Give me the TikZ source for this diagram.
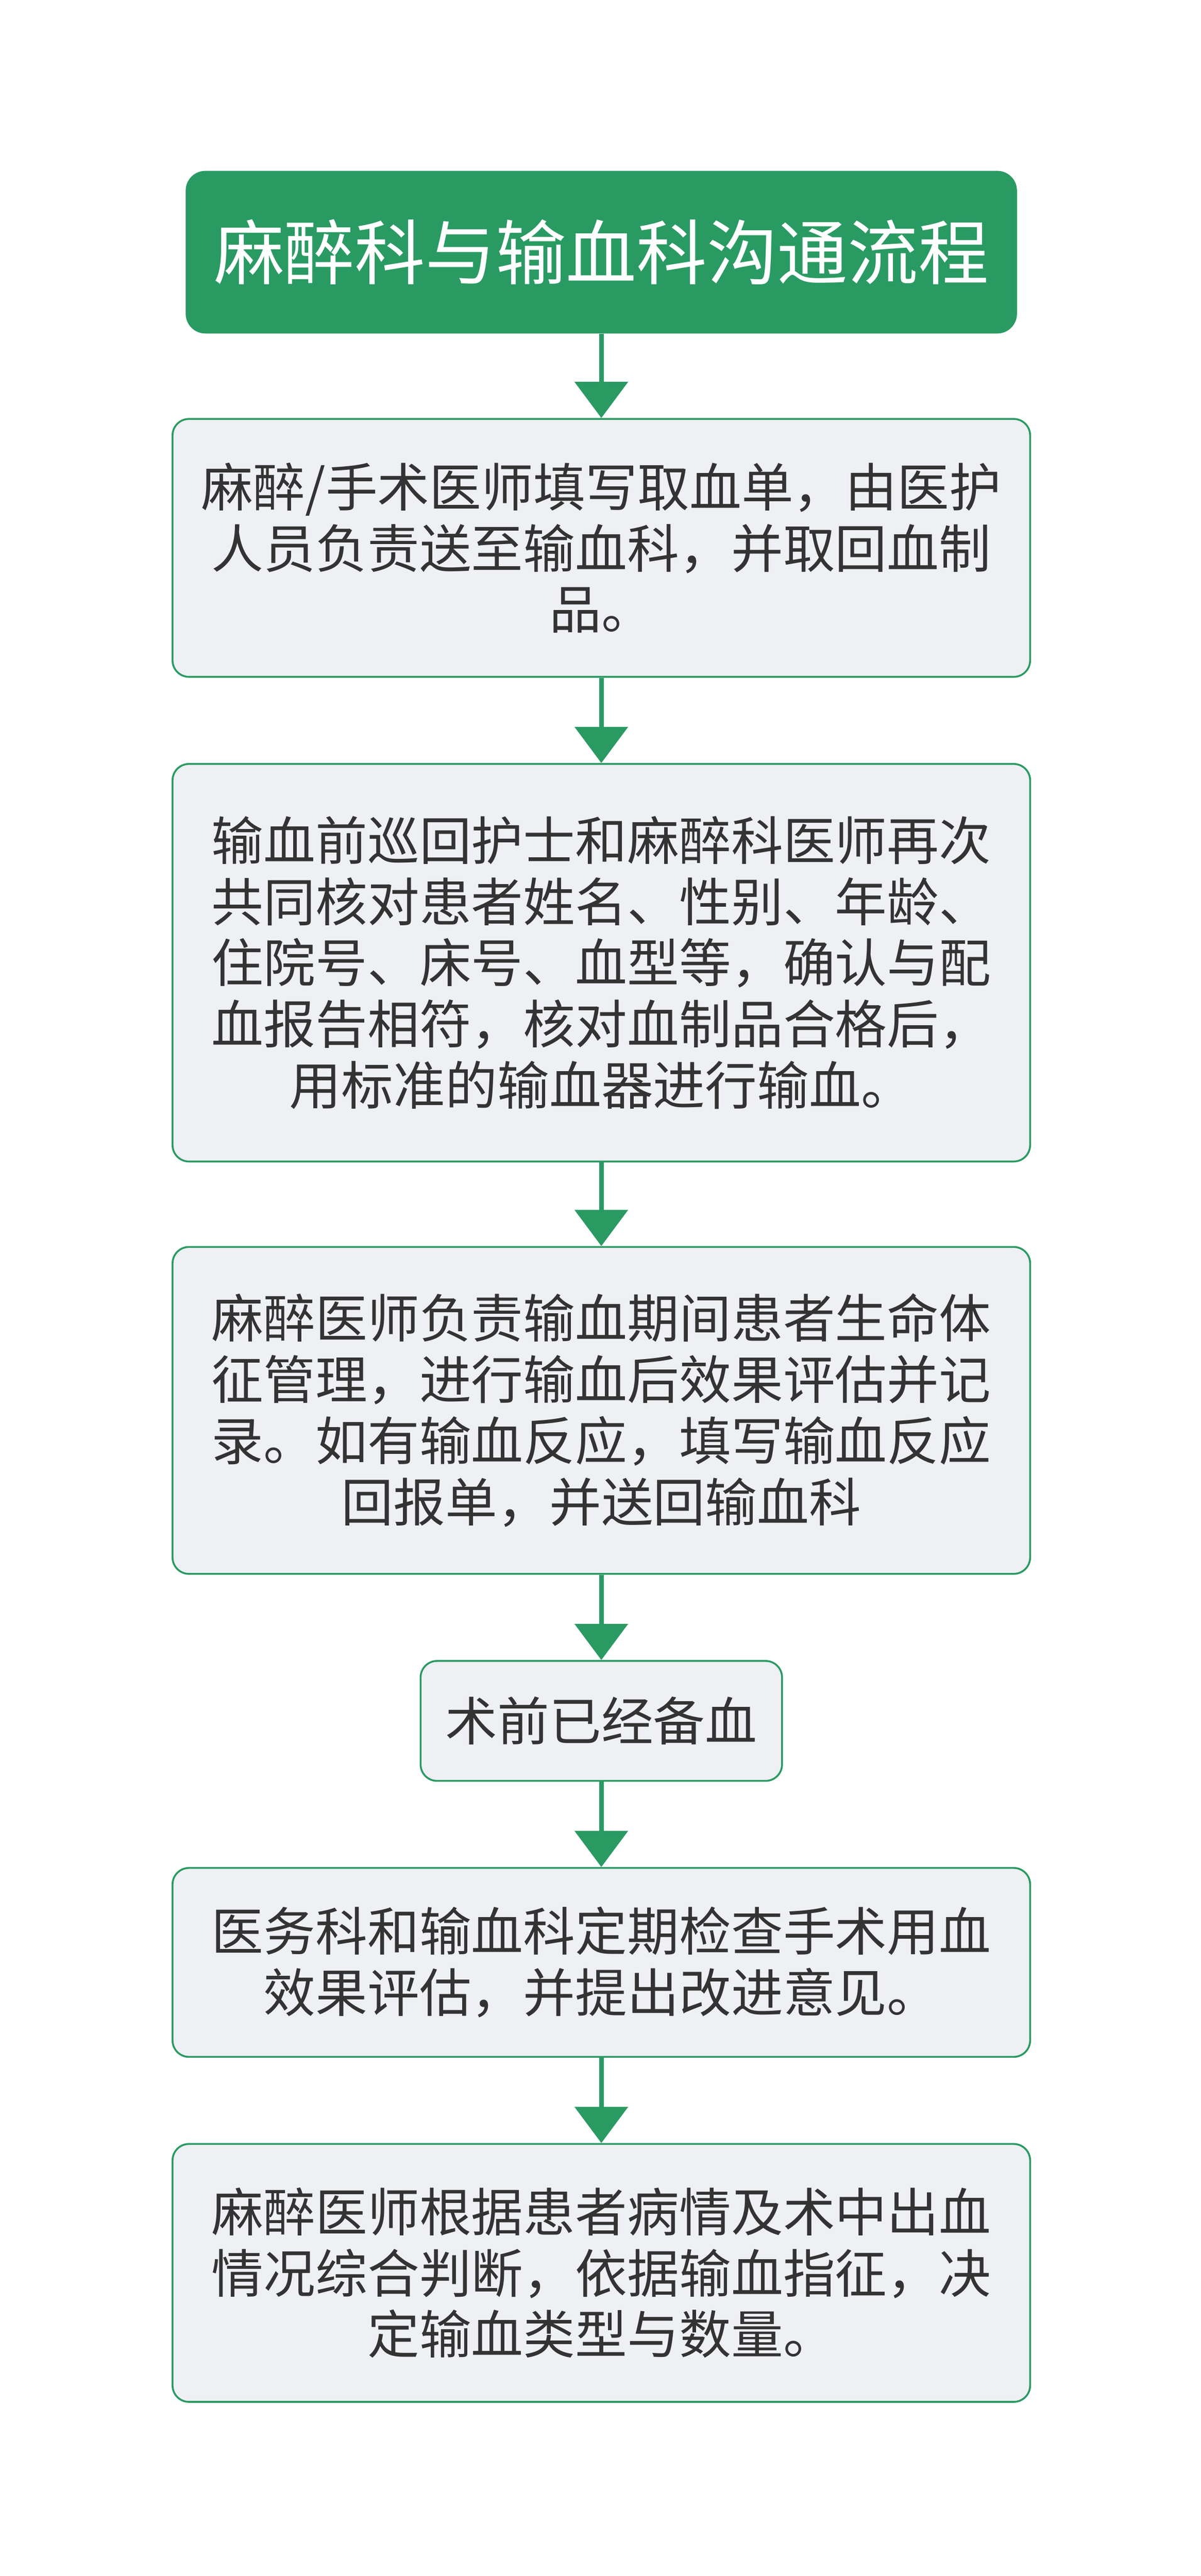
\documentclass[tikz,border=0pt]{standalone}
\usepackage{fontspec}
\setmainfont{Noto Sans CJK SC}
\usetikzlibrary{arrows.meta}
\definecolor{flowgreen}{HTML}{2A9A63}
\definecolor{boxgray}{HTML}{EEF0F3}
\definecolor{txtgray}{HTML}{333333}
\tikzset{
  stepbox/.style={draw=flowgreen, line width=1.6pt, fill=boxgray, rounded corners=0.5cm,
    text=txtgray, align=center, font=\fontsize{45}{53}\selectfont, inner sep=0pt},
  titlebox/.style={fill=flowgreen, rounded corners=0.6cm, text=white, align=center,
    font=\fontsize{61}{70}\selectfont, inner sep=0pt},
  flow/.style={draw=flowgreen, line width=4pt, -{Triangle[length=1.1cm,width=1.6cm]}}
}
\begin{document}
\begin{tikzpicture}[x=0.05cm,y=-0.05cm]
  \useasboundingbox[fill=white] (0,0) rectangle (731,1568);
  % Title
  \node[titlebox, minimum width=25.3cm, minimum height=4.95cm] (t) at (366,153.5) {麻醉科与输血科沟通流程};
  % Steps
  \node[stepbox, minimum width=26.1cm, minimum height=7.85cm] (s1) at (366,333.5)
    {麻醉/手术医师填写取血单，由医护\\人员负责送至输血科，并取回血制\\品。};
  \node[stepbox, minimum width=26.1cm, minimum height=12.1cm] (s2) at (366,586)
    {输血前巡回护士和麻醉科医师再次\\共同核对患者姓名、性别、年龄、\\住院号、床号、血型等，确认与配\\血报告相符，核对血制品合格后，\\用标准的输血器进行输血。};
  \node[stepbox, minimum width=26.1cm, minimum height=9.95cm] (s3) at (366,858.5)
    {麻醉医师负责输血期间患者生命体\\征管理，进行输血后效果评估并记\\录。如有输血反应，填写输血反应\\回报单，并送回输血科};
  \node[stepbox, minimum width=11cm, minimum height=3.65cm] (s4) at (366,1047.5)
    {术前已经备血};
  \node[stepbox, minimum width=26.1cm, minimum height=5.75cm] (s5) at (366,1194.5)
    {医务科和输血科定期检查手术用血\\效果评估，并提出改进意见。};
  \node[stepbox, minimum width=26.1cm, minimum height=7.85cm] (s6) at (366,1383.5)
    {麻醉医师根据患者病情及术中出血\\情况综合判断，依据输血指征，决\\定输血类型与数量。};
  % Connectors
  \draw[flow] (t) -- (s1);
  \draw[flow] (s1) -- (s2);
  \draw[flow] (s2) -- (s3);
  \draw[flow] (s3) -- (s4);
  \draw[flow] (s4) -- (s5);
  \draw[flow] (s5) -- (s6);
\end{tikzpicture}
\end{document}
